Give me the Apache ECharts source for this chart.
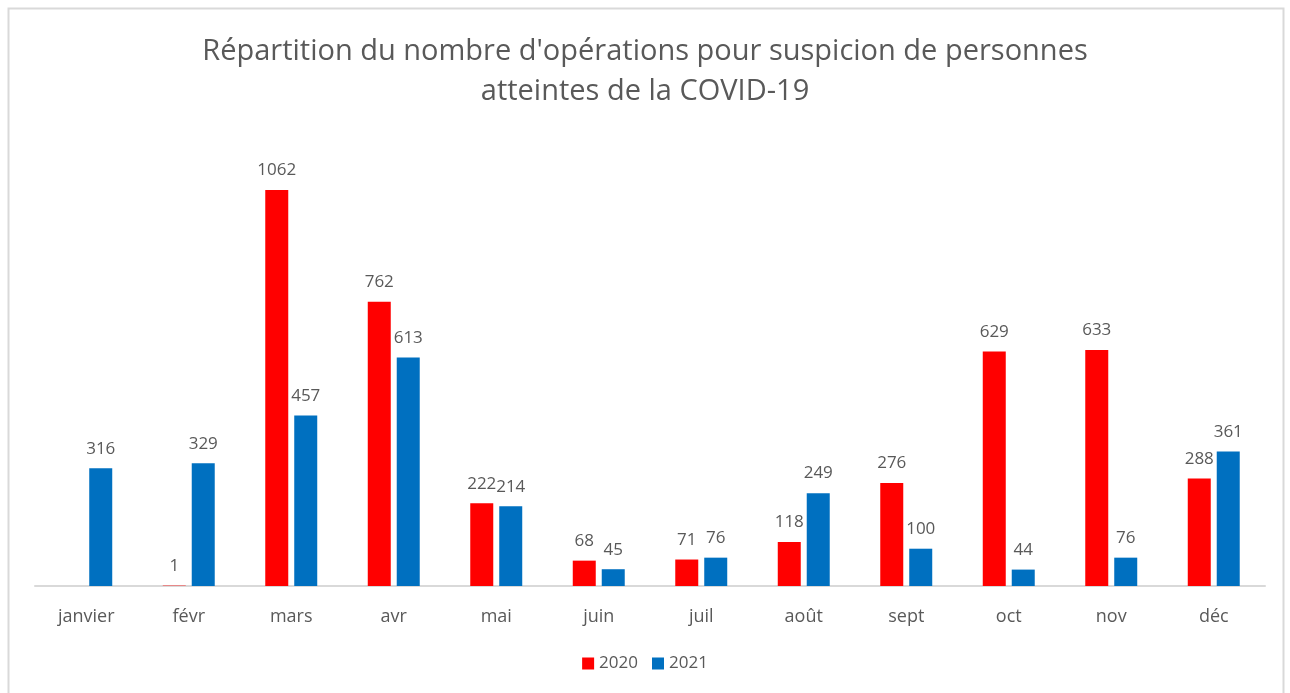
<!DOCTYPE html>
<html>
<head>
<meta charset="utf-8">
<script src="https://cdn.jsdelivr.net/npm/echarts@6/dist/echarts.min.js"></script>
<style>
  html, body { margin: 0; padding: 0; background: #fff; }
  #chart { width: 1290px; height: 693px; }
</style>
</head>
<body>
<div id="chart"></div>
<script>
// données
const months = ['janvier', 'févr', 'mars', 'avr', 'mai', 'juin', 'juil', 'août', 'sept', 'oct', 'nov', 'déc'];
const data2020 = [null, 1, 1062, 762, 222, 68, 71, 118, 276, 629, 633, 288];
const data2021 = [316, 329, 457, 613, 214, 45, 76, 249, 100, 44, 76, 361];
const titleLines = ["Répartition du nombre d'opérations pour suspicion de personnes", 'atteintes de la COVID-19'];

const chart = echarts.init(document.getElementById('chart'));
const txt = '#595959';
const font = 'Open Sans';

const labelOpt = {
  show: true,
  position: 'top',
  distance: 11,
  color: txt,
  fontSize: 17,
  fontFamily: font
};

const titleStyle = { color: txt, fontSize: 29, fontWeight: 'normal', fontFamily: font };

chart.setOption({
  animation: false,
  title: [
    { text: titleLines[0], left: 'center', top: 32, textStyle: titleStyle },
    { text: titleLines[1], left: 'center', top: 72, textStyle: titleStyle }
  ],
  legend: {
    bottom: 16,
    left: 'center',
    itemWidth: 12,
    itemHeight: 12,
    itemGap: 14,
    icon: 'rect',
    textStyle: { color: txt, fontSize: 17, fontFamily: font },
    data: ['2020', '2021']
  },
  grid: { left: 35, right: 25, top: 138.5, bottom: 107 },
  xAxis: {
    type: 'category',
    data: months,
    axisLine: { lineStyle: { color: '#d9d9d9', width: 2 } },
    axisTick: { show: false },
    axisLabel: { color: txt, fontSize: 18, fontFamily: font, margin: 22 }
  },
  yAxis: {
    type: 'value',
    min: 0,
    max: 1200,
    show: false,
    splitLine: { show: false }
  },
  series: [
    {
      name: '2020',
      type: 'bar',
      data: data2020,
      barWidth: 23,
      barGap: '26%',
      itemStyle: { color: '#ff0000' },
      label: labelOpt
    },
    {
      name: '2021',
      type: 'bar',
      data: data2021,
      barWidth: 23,
      itemStyle: { color: '#0070c0' },
      label: labelOpt
    }
  ],
  graphic: [{
    type: 'rect',
    silent: true,
    shape: { x: 8.5, y: 8.5, width: 1275, height: 690 },
    style: { fill: 'none', stroke: '#d9d9d9', lineWidth: 2 }
  }]
});
</script>
</body>
</html>
